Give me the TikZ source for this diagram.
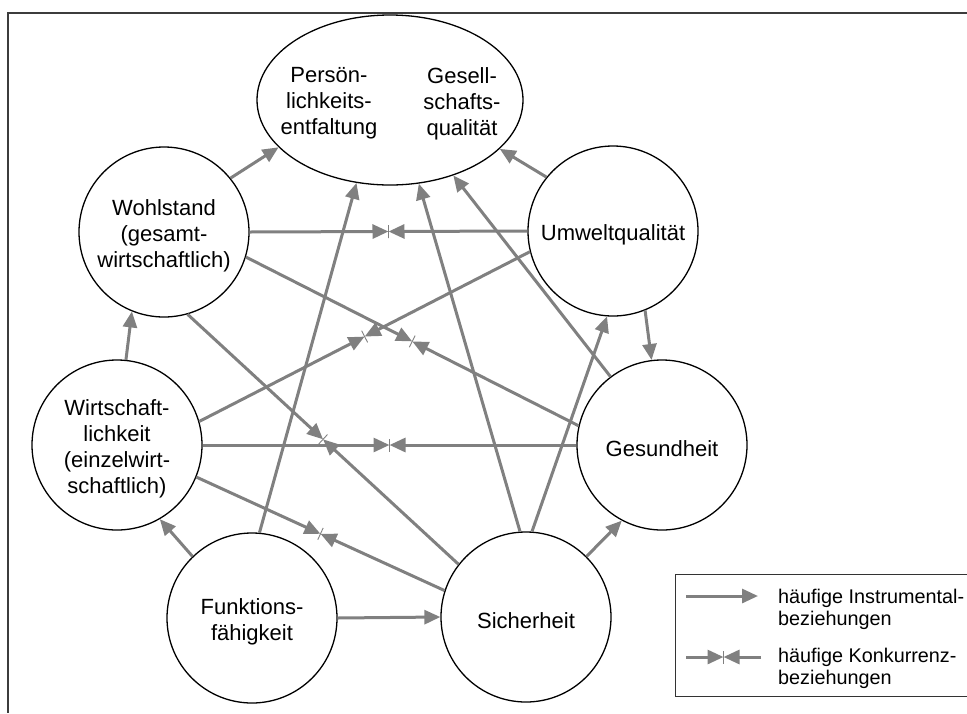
\documentclass[tikz,border=0pt]{standalone}
\usepackage{fontspec}
\setmainfont{Liberation Sans}
\usetikzlibrary{arrows.meta,calc,shapes.geometric}
\definecolor{pfeilgrau}{RGB}{128,128,128}
\definecolor{rahmen}{RGB}{60,60,60}

% Konkurrenzbeziehung: two arrows from #1 and #2 meeting at their midpoint #3,
% with a thin cross stroke at the meeting point
\newcommand\konkurrenz[3]{%
  \coordinate (#3) at ($(#1)!0.5!(#2)$);
  \draw[instr] (#1) -- (#3);
  \draw[instr] (#2) -- (#3);
  \draw[strich] ($(#3)!6.5pt!90:(#1)$) -- ($(#3)!6.5pt!-90:(#1)$);
}

\begin{document}
\begin{tikzpicture}[x=1pt,y=-1pt,
  ziel/.style={circle,draw=black,line width=1.3pt,fill=white,
    minimum size=170pt,inner sep=0pt},
  zieltext/.style={align=center,inner sep=0pt,yshift=-3.5pt,
    font=\fontsize{22pt}{26pt}\selectfont},
  instr/.style={draw=pfeilgrau,line width=3pt,
    -{Triangle[length=16pt,width=14pt]}},
  strich/.style={draw=pfeilgrau,line width=0.9pt},
  legtext/.style={anchor=west,align=left,inner sep=0pt,
    font=\fontsize{19.8pt}{21.5pt}\selectfont}
]
\useasboundingbox (0,0) rectangle (967,713);

% outer frame (top and left edge)
\draw[rahmen,line width=1.5pt] (967,13) -- (8,13) -- (8,713);

% goals
\node[ellipse,draw=black,line width=1.3pt,fill=white,
      minimum width=266pt,minimum height=170pt,inner sep=0pt] (E) at (390,100) {};
\node[zieltext] (pe) at (329,100) {Persön-\\lichkeits-\\entfaltung};
\node[zieltext] (gq) at (462,100) {Gesell-\\schafts-\\qualität};

\node[ziel] (W)  at (164,232) {};
\node[ziel] (U)  at (613,231) {};
\node[ziel] (Wi) at (117,445) {};
\node[ziel] (G)  at (662,445) {};
\node[ziel] (F)  at (252,618) {};
\node[ziel] (S)  at (526,617) {};

\node[zieltext] (Wt)  at (W)  {Wohlstand\\(gesamt-\\wirtschaftlich)};
\node[zieltext] (Ut)  at (U)  {Umweltqualität};
\node[zieltext] (Wit) at (Wi) {Wirtschaft-\\lichkeit\\(einzelwirt-\\schaftlich)};
\node[zieltext] (Gt)  at (G)  {Gesundheit};
\node[zieltext] (Ft)  at (F)  {Funktions-\\fähigkeit};
\node[zieltext] (St)  at (S)  {Sicherheit};

% Instrumentalbeziehungen
\draw[instr] (W.39)  -- (E.203);
\draw[instr] (U.141) -- (E.336);
\draw[instr] (U.292) -- (G.97);
\draw[instr] (Wi.84) -- (W.248);
\draw[instr] (F.134) -- (Wi.300);
\draw[instr] (F.0)   -- (S.180);
\draw[instr] (S.45)  -- (G.242);
\draw[instr] (F.85)  -- (E.248);
\draw[instr] (S.94)  -- (E.289);
\draw[instr] (G.127) -- (E.310);
\draw[instr] (S.86)  -- (U.266);

% Konkurrenzbeziehungen
\konkurrenz{W.0}{U.180}{k1}
\konkurrenz{Wi.0}{G.180}{k2}
\konkurrenz{W.343}{G.167}{k3}
\konkurrenz{Wi.16}{U.194}{k4}
\konkurrenz{W.286}{S.142}{k5}
\konkurrenz{Wi.338}{S.162}{k6}

% legend
\draw[black!80,line width=1pt] (967,574) -- (675,574) -- (675,696) -- (967,696);
\coordinate (l1a) at (686,596);
\coordinate (l1b) at (758,596);
\draw[instr] (l1a) -- (l1b);
\node[legtext] (l1t) at (778,609.6) {häufige Instrumental-\\beziehungen};
\coordinate (l2a) at (686,657);
\coordinate (l2b) at (761,657);
\konkurrenz{l2a}{l2b}{l2m}
\node[legtext] (l2t) at (778,668.3) {häufige Konkurrenz-\\beziehungen};
\end{tikzpicture}
\end{document}
